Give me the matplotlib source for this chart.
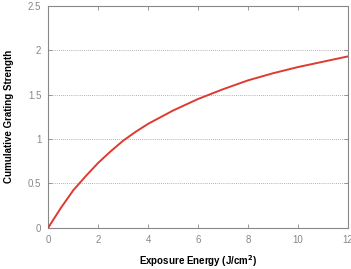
import matplotlib
matplotlib.use("Agg")
import matplotlib.pyplot as plt

energy = [0, 0.5, 1, 1.5, 2, 2.5, 3, 3.5, 4, 5, 6, 7, 8, 9, 10, 11, 12]
strength = [0, 0.22, 0.42, 0.58, 0.73, 0.86, 0.98, 1.08, 1.17, 1.32, 1.45,
            1.56, 1.66, 1.74, 1.81, 1.87, 1.93]
xticks = [0, 2, 4, 6, 8, 10, 12]
yticks = [0, 0.5, 1, 1.5, 2, 2.5]
ytick_labels = ["0", "0.5", "1", "1.5", "2", "2.5"]

plt.rcParams["font.family"] = ["Liberation Sans", "DejaVu Sans"]

fig = plt.figure(figsize=(3.51, 2.69), dpi=100)
ax = fig.add_axes([0.1376, 0.154, 0.853, 0.824])

for y in yticks[1:-1]:
    ax.axhline(y, color="#999999", lw=0.6, ls=(0, (1, 1.5)), zorder=1)

ax.plot(energy, strength, color="#dd3b30", lw=1.4, zorder=3)

ax.set_xlim(0, 12)
ax.set_ylim(0, 2.5)
ax.set_xticks(xticks)
ax.set_yticks(yticks)
ax.set_yticklabels(ytick_labels)
ax.tick_params(direction="in", length=3, width=0.6, colors="#888888",
               labelsize=7, top=True, right=True, pad=5)
for s in ax.spines.values():
    s.set_color("#888888")
    s.set_linewidth(0.8)

ax.set_xlabel("Exposure Energy (J/cm$^\\mathbf{2}$)", fontsize=7, fontweight="bold", labelpad=6)
ax.set_ylabel("Cumulative Grating Strength", fontsize=7, fontweight="bold", labelpad=10)

fig.savefig("out.png", dpi=100)
